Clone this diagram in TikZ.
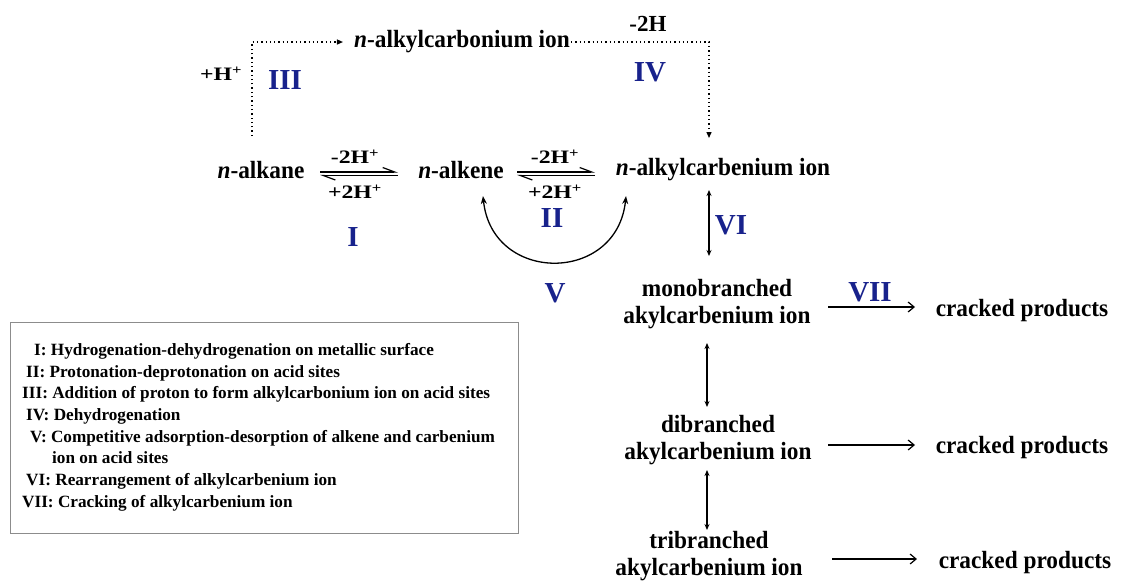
\documentclass[tikz,border=0pt]{standalone}
\usepackage{fontspec}
\setmainfont{Liberation Serif}
\newfontfamily\tallfont{Liberation Serif}[FakeStretch=0.94]
\newfontfamily\widefont{Liberation Serif}[FakeStretch=1.25]
\usetikzlibrary{arrows.meta}
\definecolor{numblue}{RGB}{24,34,140}
\definecolor{boxgray}{RGB}{140,140,140}
\begin{document}
\begin{tikzpicture}[x=1pt,y=-1pt,
  lbl/.style={font=\tallfont\bfseries\fontsize{24.8}{27.5}\selectfont, inner sep=1pt},
  sml/.style={font=\widefont\bfseries\fontsize{19}{22}\selectfont, inner sep=1pt},
  top/.style={font=\bfseries\fontsize{23}{26}\selectfont, inner sep=1pt},
  num/.style={font=\bfseries\fontsize{29}{31}\selectfont, text=numblue, inner sep=1pt},
  leg/.style={font=\bfseries\fontsize{17.2}{20}\selectfont, anchor=base west, inner sep=0pt},
  dotarr/.style={line width=1.3pt, dash pattern=on 1.3pt off 3pt, -{Triangle[length=6pt,width=5pt]}},
  harp/.style={line width=1.2pt, -{Straight Barb[harpoon,length=12pt,width=9pt]}},
  dbl/.style={line width=1.1pt, {Stealth[length=6pt,width=5pt]}-{Stealth[length=6pt,width=5pt]}},
  crack/.style={line width=1.2pt, -{Straight Barb[length=6pt,width=10pt]}},
  curv/.style={line width=1.3pt, {Stealth[length=8pt,width=6pt]}-{Stealth[length=8pt,width=6pt]}}]
\useasboundingbox (0,0) rectangle (1137,582);

% species
\node[lbl] (carbonium) at (462,42) {\textit{n}-alkylcarbonium ion};
\node[lbl] (alkane) at (261,170) {\textit{n}-alkane};
\node[lbl] (alkene) at (461,170) {\textit{n}-alkene};
\node[lbl] (carbenium) at (723,170) {\textit{n}-alkylcarbenium ion};
\node[lbl, align=center] (mono) at (717,304) {monobranched\\akylcarbenium ion};
\node[lbl, align=center] (di) at (718,440) {dibranched\\akylcarbenium ion};
\node[lbl, align=center] (tri) at (709,556) {tribranched\\akylcarbenium ion};
\node[lbl] (cp1) at (1022,311) {cracked products};
\node[lbl] (cp2) at (1022,448) {cracked products};
\node[lbl] (cp3) at (1025,563) {cracked products};

% labels
\node[sml] (hplus) at (221,74) {+H\textsuperscript{+}};
\node[num] (n3) at (285,80) {III};
\node[top] (m2h) at (648,24) {-2H};
\node[num] (n4) at (650,72) {IV};
\node[sml] (l1a) at (355,157) {-2H\textsuperscript{+}};
\node[sml] (l1b) at (355,192) {+2H\textsuperscript{+}};
\node[num] (n1) at (353,237) {I};
\node[sml] (l2a) at (555,157) {-2H\textsuperscript{+}};
\node[sml] (l2b) at (555,192) {+2H\textsuperscript{+}};
\node[num] (n2) at (552,218) {II};
\node[num] (n5) at (555,293) {V};
\node[num] (n6) at (731,225) {VI};
\node[num] (n7) at (870,292) {VII};

% coordinates
\coordinate (p3s) at (252,136);
\coordinate (p4e) at (709,138);
\coordinate (e1a) at (320,172);
\coordinate (e1b) at (398,172);
\coordinate (e1c) at (398,175.5);
\coordinate (e1d) at (320,175.5);
\coordinate (e2a) at (517,172);
\coordinate (e2b) at (595,172);
\coordinate (e2c) at (595,175.5);
\coordinate (e2d) at (517,175.5);
\coordinate (va) at (483,196);
\coordinate (vb) at (626,196);
\coordinate (v6a) at (709,190);
\coordinate (v6b) at (709,256);
\coordinate (v8a) at (707,343);
\coordinate (v8b) at (707,407);
\coordinate (v9a) at (707,470);
\coordinate (v9b) at (707,530);
\coordinate (c1a) at (828,307);
\coordinate (c1b) at (915,307);
\coordinate (c2a) at (828,445);
\coordinate (c2b) at (915,445);
\coordinate (c3a) at (832,559);
\coordinate (c3b) at (917,559);

% connectors
\draw[dotarr, shorten >=10pt] (p3s) |- (carbonium.west);
\draw[dotarr] (carbonium.east) -| (p4e);
\draw[harp] (e1a) -- (e1b);
\draw[harp] (e1c) -- (e1d);
\draw[harp] (e2a) -- (e2b);
\draw[harp] (e2c) -- (e2d);
\draw[curv] (va) .. controls (492,284) and (617,284) .. (vb);
\draw[dbl] (v6a) -- (v6b);
\draw[dbl] (v8a) -- (v8b);
\draw[dbl] (v9a) -- (v9b);
\draw[crack] (c1a) -- (c1b);
\draw[crack] (c2a) -- (c2b);
\draw[crack] (c3a) -- (c3b);

% legend
\node[draw=boxgray, line width=1.4pt, anchor=north west, minimum width=508pt, minimum height=211pt, inner sep=0pt] (legend) at (10,322) {};
\node[leg] (t1) at (34,355) {I: Hydrogenation-dehydrogenation on metallic surface};
\node[leg] (t2) at (26,377) {II: Protonation-deprotonation on acid sites};
\node[leg] (t3) at (22,398) {III: Addition of proton to form alkylcarbonium ion on acid sites};
\node[leg] (t4) at (26,420) {IV: Dehydrogenation};
\node[leg] (t5) at (30,442) {V: Competitive adsorption-desorption of alkene and carbenium};
\node[leg] (t6) at (52,463) {ion on acid sites};
\node[leg] (t7) at (26,485) {VI: Rearrangement of alkylcarbenium ion};
\node[leg] (t8) at (22,507) {VII: Cracking of alkylcarbenium ion};
\end{tikzpicture}
\end{document}
